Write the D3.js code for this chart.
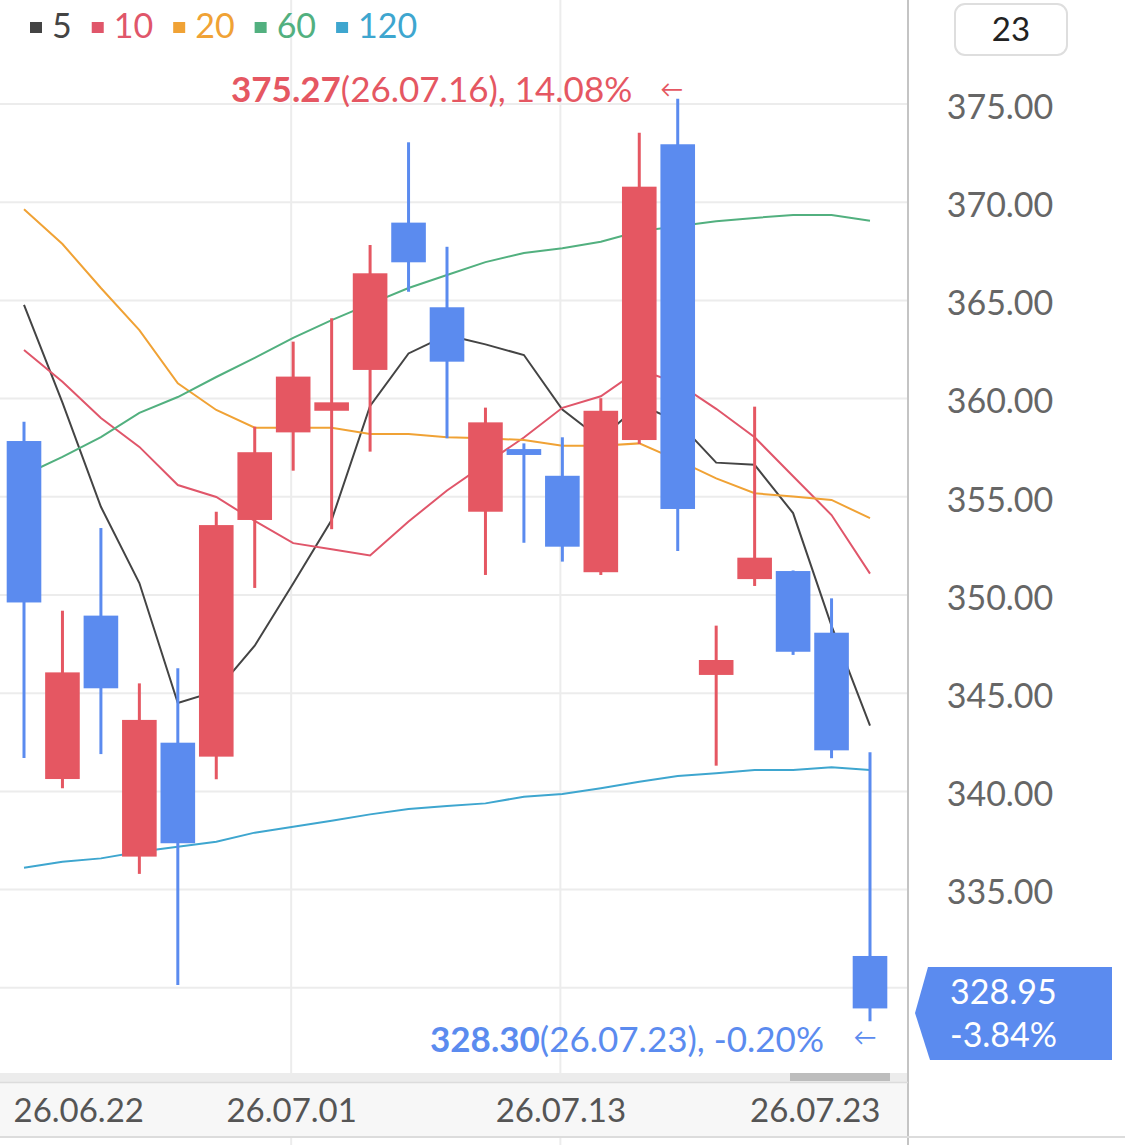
<!DOCTYPE html>
<html>
<head>
<meta charset="utf-8">
<script src="https://cdn.jsdelivr.net/npm/d3@7"></script>
<style>
	html, body { margin: 0; padding: 0; background: #fff; }
	svg { display: block; font-family: Lato, 'Noto Sans', sans-serif; }
</style>
</head>
<body>
<div id="chart"></div>
<script>
// daily candles
const dates = ['26.06.22', '26.06.23', '26.06.24', '26.06.25', '26.06.26', '26.06.29', '26.06.30', '26.07.01',
	'26.07.02', '26.07.03', '26.07.06', '26.07.07', '26.07.08', '26.07.09', '26.07.13', '26.07.14',
	'26.07.15', '26.07.16', '26.07.17', '26.07.20', '26.07.21', '26.07.22', '26.07.23'];
const opens = [357.84, 340.63, 348.95, 336.68, 342.48, 341.77, 353.82, 358.28, 359.38, 361.46, 368.96, 364.65,
	354.24, 357.43, 356.07, 351.16, 357.89, 372.95, 345.93, 350.81, 351.22, 348.08, 331.62];
const highs = [358.82, 349.20, 353.41, 345.50, 346.27, 354.24, 358.57, 362.90, 364.09, 367.82, 373.05, 367.73,
	359.54, 357.72, 358.03, 360.02, 373.54, 375.27, 348.44, 359.59, 351.25, 349.83, 341.99];
const lows = [341.70, 340.16, 341.90, 335.80, 330.14, 340.62, 350.36, 356.33, 353.35, 357.30, 365.44, 357.98,
	351.02, 352.66, 351.70, 351.02, 357.69, 352.24, 341.31, 350.46, 346.95, 341.69, 328.30];
const closes = [349.62, 346.06, 345.25, 343.64, 337.36, 353.56, 357.27, 361.12, 359.81, 366.38, 366.94, 361.88,
	358.79, 357.13, 352.46, 359.38, 370.79, 354.38, 346.69, 351.90, 347.11, 342.09, 328.95];

// moving averages
const ma5 = [364.77, 359.80, 354.49, 350.61, 344.50, 345.10, 347.42, 350.59, 353.82, 359.63, 362.30, 363.23,
	362.76, 362.22, 359.44, 357.93, 359.71, 358.83, 356.74, 356.63, 354.17, 348.43, 343.35];
const ma10 = [362.47, 360.86, 359.01, 357.54, 355.60, 354.99, 353.77, 352.64, 352.33, 352.01, 353.74, 355.32,
	356.68, 358.02, 359.53, 360.12, 361.47, 360.79, 359.48, 358.03, 356.05, 354.07, 351.09];
const ma20 = [369.64, 367.87, 365.63, 363.49, 360.78, 359.42, 358.52, 358.52, 358.52, 358.20, 358.20, 358.03,
	357.98, 357.89, 357.60, 357.60, 357.72, 356.87, 355.94, 355.18, 355.01, 354.84, 353.91];
const ma60 = [356.11, 357.03, 358.04, 359.27, 360.08, 361.10, 362.07, 363.09, 364.00, 364.82, 365.63, 366.29,
	366.95, 367.41, 367.66, 367.99, 368.52, 368.78, 369.03, 369.20, 369.35, 369.35, 369.06];
const ma120 = [336.11, 336.42, 336.59, 336.93, 337.18, 337.44, 337.90, 338.20, 338.51, 338.83, 339.10, 339.26,
	339.39, 339.73, 339.87, 340.16, 340.49, 340.78, 340.92, 341.09, 341.09, 341.23, 341.09];

const maNames = ['5', '10', '20', '60', '120'];
const maColors = ['#444444', '#e0566a', '#f0a235', '#52b07f', '#3ea6cf'];
const yTicks = [330, 335, 340, 345, 350, 355, 360, 365, 370, 375];
const xTicks = ['26.06.22', '26.07.01', '26.07.13', '26.07.23'];

const upColor = '#e55762';
const downColor = '#5b8bef';

let width = 1125,
	height = 1145,
	plotRight = 908;

// plain hyphen for negatives, like the original
let fmt = (v) => v.toFixed(2);

let svg = d3.select('#chart').append('svg').attr('width', width).attr('height', height);

let x = d3.scalePoint().domain(dates).range([24, 870]);
let y = d3.scaleLinear().domain([330, 375]).range([987.8, 104]);
let bodyW = x.step() * 0.9;

// grid
svg.append('g')
	.selectAll('line')
	.data(yTicks)
	.enter()
	.append('line')
	.attr('x1', 0)
	.attr('x2', plotRight)
	.attr('y1', (d) => y(d))
	.attr('y2', (d) => y(d))
	.attr('stroke', '#ececec')
	.attr('stroke-width', 2);

svg.append('g')
	.selectAll('line')
	.data(xTicks.slice(1, -1))
	.enter()
	.append('line')
	.attr('x1', (d) => x(d) - 2)
	.attr('x2', (d) => x(d) - 2)
	.attr('y1', 0)
	.attr('y2', height)
	.attr('stroke', '#ececec')
	.attr('stroke-width', 2);

svg.append('clipPath').attr('id', 'plot').append('rect').attr('x', 0).attr('y', 60).attr('width', plotRight).attr('height', 1012);

let plot = svg.append('g').attr('clip-path', 'url(#plot)');

// MA lines
let line = d3.line()
	.x((d, i) => x(dates[i]))
	.y((d) => y(d));

[ma5, ma10, ma20, ma60, ma120].forEach((series, k) => {
	plot.append('path')
		.datum(series)
		.attr('d', line)
		.attr('fill', 'none')
		.attr('stroke', maColors[k])
		.attr('stroke-width', 2);
});

// candles
let candles = plot.selectAll('g.candle')
	.data(dates)
	.enter()
	.append('g')
	.attr('class', 'candle');

candles.append('line')
	.attr('x1', (d) => x(d))
	.attr('x2', (d) => x(d))
	.attr('y1', (d, i) => y(highs[i]))
	.attr('y2', (d, i) => y(lows[i]))
	.attr('stroke', (d, i) => (closes[i] >= opens[i] ? upColor : downColor))
	.attr('stroke-width', 3);

candles.append('rect')
	.attr('x', (d) => x(d) - bodyW / 2)
	.attr('y', (d, i) => y(Math.max(opens[i], closes[i])))
	.attr('width', bodyW)
	.attr('height', (d, i) => Math.max(Math.abs(y(opens[i]) - y(closes[i])), 3))
	.attr('fill', (d, i) => (closes[i] >= opens[i] ? upColor : downColor));

// high / low notes
let last = closes.length - 1;
let hiIdx = d3.maxIndex(highs);
let loIdx = d3.minIndex(lows);
let pct = (v) => fmt((v / closes[last] - 1) * 100) + '%';

let hiNote = svg.append('text').attr('x', 231).attr('y', 102).attr('font-size', 35).attr('fill', upColor);
hiNote.append('tspan').attr('font-weight', 'bold').text(fmt(highs[hiIdx]));
hiNote.append('tspan').text('(' + dates[hiIdx] + '), ' + pct(highs[hiIdx]));
svg.append('text').attr('x', x(dates[hiIdx]) - 6).attr('y', 97).attr('text-anchor', 'middle')
	.attr('font-size', 23).attr('fill', upColor).text('←');

let loNote = svg.append('text').attr('x', 430).attr('y', 1052).attr('font-size', 35).attr('fill', downColor);
loNote.append('tspan').attr('font-weight', 'bold').text(fmt(lows[loIdx]));
loNote.append('tspan').text('(' + dates[loIdx] + '), ' + pct(lows[loIdx]));
svg.append('text').attr('x', x(dates[loIdx]) - 5).attr('y', 1045).attr('text-anchor', 'middle')
	.attr('font-size', 23).attr('fill', downColor).text('←');

// legend
let lx = 30;
maNames.forEach((name, k) => {
	svg.append('rect').attr('x', lx).attr('y', 22).attr('width', 12).attr('height', 11).attr('fill', maColors[k]);
	let t = svg.append('text').attr('x', lx + 22).attr('y', 38).attr('font-size', 34).attr('fill', maColors[k]).text(name);
	lx += 22 + t.node().getComputedTextLength() + 20;
});

// right axis
svg.append('line').attr('x1', plotRight).attr('x2', plotRight).attr('y1', 0).attr('y2', height)
	.attr('stroke', '#c4c4c4').attr('stroke-width', 2);

// the 330 label sits under the last-price tag, so it is left out
let yAxis = svg.append('g')
	.attr('transform', 'translate(1000,0)')
	.call(d3.axisRight(y).tickValues(yTicks.slice(1)).tickFormat(fmt).tickSize(0).tickPadding(0));
yAxis.select('.domain').remove();
yAxis.selectAll('text')
	.attr('text-anchor', 'middle')
	.attr('dy', '0.42em')
	.attr('font-family', 'Lato')
	.attr('font-size', 34)
	.attr('fill', '#666');

svg.append('rect').attr('x', 955).attr('y', 4).attr('width', 112).attr('height', 51).attr('rx', 10)
	.attr('fill', '#fff').attr('stroke', '#dedede').attr('stroke-width', 2);
svg.append('text').attr('x', 1011).attr('y', 41).attr('text-anchor', 'middle').attr('font-size', 33)
	.attr('fill', '#222').text(dates.length);

// last price tag
svg.append('polygon')
	.attr('points', '928,967 1112,967 1112,1060 930,1060 915,1013')
	.attr('fill', downColor);
svg.append('text').attr('x', 950).attr('y', 1004).attr('font-size', 34).attr('fill', '#fff')
	.text(fmt(closes[last]));
svg.append('text').attr('x', 950).attr('y', 1047).attr('font-size', 34).attr('fill', '#fff')
	.text(fmt((closes[last] / closes[last - 1] - 1) * 100) + '%');

// x axis band
svg.append('rect').attr('x', 0).attr('y', 1073).attr('width', plotRight - 1).attr('height', 9).attr('fill', '#ececec');
svg.append('rect').attr('x', 790).attr('y', 1073).attr('width', 100).attr('height', 8).attr('fill', '#bdbdbd');
svg.append('rect').attr('x', 0).attr('y', 1083).attr('width', plotRight - 1).attr('height', 53).attr('fill', '#f7f7f7');
svg.append('line').attr('x1', 0).attr('x2', plotRight).attr('y1', 1082.5).attr('y2', 1082.5).attr('stroke', '#dcdcdc').attr('stroke-width', 1.5);
svg.append('line').attr('x1', 0).attr('x2', width).attr('y1', 1137).attr('y2', 1137).attr('stroke', '#dcdcdc').attr('stroke-width', 2);

let xAxis = svg.append('g')
	.attr('transform', 'translate(0,1096)')
	.call(d3.axisBottom(x).tickValues(xTicks).tickSize(0).tickPadding(0));
xAxis.select('.domain').remove();
xAxis.selectAll('text')
	.attr('font-family', 'Lato')
	.attr('font-size', 33)
	.attr('fill', '#555')
	.attr('dy', '0.8em')
	.each(function (d) {
		let w = this.getComputedTextLength();
		let cx = Math.max(13 + w / 2, Math.min(880 - w / 2, x(d) - 2));
		d3.select(this).attr('x', cx - x(d));
	});
</script>
</body>
</html>
